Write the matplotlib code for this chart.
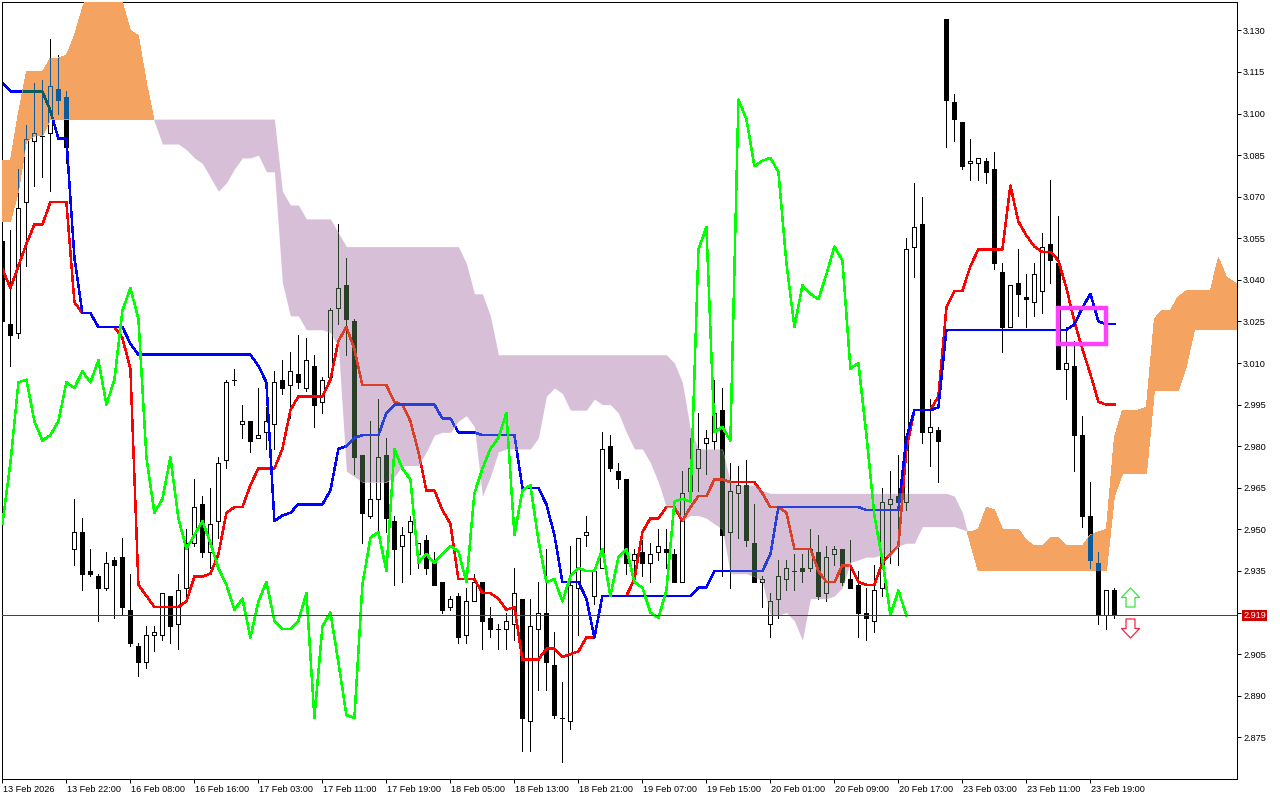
import numpy as np
import matplotlib
matplotlib.use("Agg")
import matplotlib.pyplot as plt
from matplotlib.path import Path
from matplotlib.patches import Rectangle
from matplotlib.transforms import ScaledTranslation

plt.rcParams['font.family'] = ['Liberation Sans', 'DejaVu Sans']

opens = [3.054, 3.024, 3.021, 3.068, 3.090, 3.092, 3.093, 3.109, 3.106, 2.943,
         2.949, 2.935, 2.933, 2.929, 2.939, 2.940, 2.921, 2.908, 2.902, 2.912,
         2.912, 2.926, 2.916, 2.929, 2.945, 2.959, 2.942, 2.953, 2.975, 3.004,
         2.988, 2.989, 2.983, 2.985, 2.988, 3.004, 3.002, 3.006, 3.001, 3.009,
         2.996, 3.005, 3.030, 3.038, 3.025, 2.977, 2.955, 2.961, 2.977, 2.953,
         2.944, 2.949, 2.941, 2.946, 2.938, 2.931, 2.922, 2.926, 2.912, 2.924,
         2.931, 2.918, 2.914, 2.914, 2.916, 2.925, 2.881, 2.914, 2.920, 2.901,
         2.882, 2.881, 2.929, 2.948, 2.926, 2.936, 2.980, 2.971, 2.968, 2.939,
         2.942, 2.938, 2.942, 2.943, 2.941, 2.931, 2.964, 2.972, 2.981, 2.982,
         2.993, 2.949, 2.963, 2.966, 2.945, 2.931, 2.916, 2.925, 2.932, 2.935,
         2.936, 2.936, 2.942, 2.927, 2.941, 2.943, 2.932, 2.930, 2.920, 2.917,
         2.929, 2.959, 2.962, 2.960, 3.052, 3.060, 2.985, 2.986, 3.134, 3.104,
         3.097, 3.082, 3.082, 3.083, 3.080, 3.043, 3.023, 3.039, 3.034, 3.032,
         3.036, 3.053, 3.046, 3.008, 3.009, 2.984, 2.955, 2.938, 2.919, 2.928]
highs = [3.054, 3.058, 3.080, 3.096, 3.111, 3.112, 3.127, 3.121, 3.108, 2.961,
         2.954, 2.943, 2.934, 2.942, 2.940, 2.947, 2.934, 2.909, 2.915, 2.915,
         2.927, 2.926, 2.934, 2.950, 2.968, 2.962, 2.965, 2.976, 3.004, 3.008,
         2.995, 2.989, 3.001, 2.994, 3.007, 3.011, 3.014, 3.020, 3.019, 3.013,
         3.005, 3.030, 3.060, 3.048, 3.026, 2.977, 2.989, 2.997, 2.983, 2.955,
         2.951, 2.955, 2.945, 2.948, 2.942, 2.931, 2.926, 2.927, 2.929, 2.934,
         2.931, 2.922, 2.916, 2.920, 2.936, 2.925, 2.925, 2.931, 2.943, 2.913,
         2.895, 2.944, 2.947, 2.955, 2.936, 2.985, 2.984, 2.974, 2.968, 2.943,
         2.946, 2.945, 2.950, 2.950, 2.943, 2.971, 2.983, 2.992, 2.986, 3.004,
         3.001, 2.974, 2.973, 2.975, 2.959, 2.933, 2.927, 2.939, 2.939, 2.941,
         2.941, 2.950, 2.948, 2.944, 2.944, 2.943, 2.946, 2.935, 2.929, 2.937,
         2.965, 2.971, 2.977, 3.055, 3.075, 3.070, 2.997, 2.987, 3.134, 3.107,
         3.097, 3.091, 3.084, 3.084, 3.086, 3.046, 3.038, 3.051, 3.042, 3.046,
         3.057, 3.076, 3.063, 3.023, 3.018, 2.991, 2.967, 2.942, 2.928, 2.929]
lows = [3.025, 3.009, 3.019, 3.045, 3.074, 3.077, 3.072, 3.100, 3.082, 2.937,
        2.928, 2.933, 2.917, 2.928, 2.918, 2.919, 2.908, 2.897, 2.900, 2.906,
        2.910, 2.909, 2.907, 2.925, 2.944, 2.940, 2.936, 2.947, 2.972, 3.002,
        2.983, 2.978, 2.983, 2.979, 2.979, 2.999, 2.990, 3.001, 3.000, 2.987,
        2.992, 3.004, 3.024, 3.013, 2.970, 2.945, 2.954, 2.948, 2.949, 2.930,
        2.931, 2.934, 2.936, 2.934, 2.930, 2.920, 2.921, 2.909, 2.909, 2.924,
        2.907, 2.911, 2.907, 2.907, 2.910, 2.870, 2.870, 2.892, 2.892, 2.882,
        2.866, 2.878, 2.912, 2.944, 2.923, 2.936, 2.971, 2.965, 2.934, 2.933,
        2.933, 2.931, 2.939, 2.936, 2.931, 2.931, 2.963, 2.964, 2.970, 2.979,
        2.933, 2.929, 2.947, 2.944, 2.931, 2.922, 2.911, 2.918, 2.928, 2.928,
        2.931, 2.935, 2.925, 2.924, 2.937, 2.930, 2.929, 2.911, 2.910, 2.913,
        2.926, 2.938, 2.937, 2.957, 3.041, 2.981, 2.973, 2.967, 3.088, 3.090,
        3.080, 3.076, 3.076, 3.075, 3.044, 3.014, 3.023, 3.027, 3.023, 3.027,
        3.028, 3.039, 3.008, 2.997, 2.971, 2.951, 2.936, 2.916, 2.914, 2.918]
closes = [3.025, 3.020, 3.066, 3.091, 3.093, 3.092, 3.110, 3.105, 3.088, 2.949,
          2.934, 2.934, 2.929, 2.938, 2.937, 2.922, 2.909, 2.902, 2.912, 2.913,
          2.927, 2.915, 2.928, 2.945, 2.958, 2.942, 2.952, 2.974, 3.003, 3.004,
          2.989, 2.982, 2.984, 2.989, 3.003, 3.001, 3.007, 3.003, 3.011, 2.995,
          3.004, 3.029, 3.037, 3.026, 2.976, 2.956, 2.961, 2.976, 2.954, 2.943,
          2.948, 2.953, 2.945, 2.936, 2.930, 2.921, 2.925, 2.911, 2.924, 2.931,
          2.917, 2.914, 2.914, 2.917, 2.927, 2.882, 2.915, 2.920, 2.902, 2.883,
          2.882, 2.930, 2.947, 2.949, 2.935, 2.979, 2.972, 2.968, 2.938, 2.941,
          2.938, 2.941, 2.944, 2.942, 2.931, 2.963, 2.972, 2.979, 2.983, 2.992,
          2.948, 2.964, 2.966, 2.946, 2.931, 2.932, 2.924, 2.933, 2.936, 2.935,
          2.935, 2.943, 2.926, 2.940, 2.943, 2.931, 2.929, 2.920, 2.918, 2.928,
          2.960, 2.961, 2.960, 3.051, 3.059, 2.985, 2.987, 2.982, 3.105, 3.098,
          3.081, 3.083, 3.084, 3.079, 3.046, 3.023, 3.038, 3.035, 3.033, 3.042,
          3.052, 3.047, 3.008, 3.010, 2.984, 2.955, 2.939, 2.919, 2.928, 2.919]

tenkan = [3.044, 3.037, 3.045, 3.053, 3.060, 3.060, 3.068, 3.068, 3.068, 3.032,
          3.028, 3.028, 3.023, 3.023, 3.023, 3.019, 3.008, 2.930, 2.926, 2.922,
          2.922, 2.922, 2.922, 2.924, 2.933, 2.933, 2.934, 2.941, 2.956, 2.958,
          2.958, 2.966, 2.972, 2.972, 2.972, 2.979, 2.993, 2.998, 2.998, 2.998,
          2.998, 3.004, 3.018, 3.023, 3.015, 3.002, 3.002, 3.002, 3.002, 2.996,
          2.995, 2.989, 2.978, 2.964, 2.964, 2.957, 2.952, 2.932, 2.932, 2.932,
          2.927, 2.927, 2.925, 2.921, 2.922, 2.903, 2.903, 2.903, 2.907, 2.907,
          2.904, 2.905, 2.906, 2.911, 2.911, 2.926, 2.926, 2.926, 2.926, 2.932,
          2.949, 2.954, 2.954, 2.958, 2.958, 2.953, 2.958, 2.962, 2.962, 2.968,
          2.968, 2.967, 2.967, 2.967, 2.967, 2.963, 2.958, 2.958, 2.956, 2.943,
          2.943, 2.943, 2.935, 2.931, 2.931, 2.937, 2.937, 2.931, 2.930, 2.930,
          2.938, 2.941, 2.944, 2.979, 2.993, 2.993, 2.993, 2.998, 3.030, 3.036,
          3.036, 3.045, 3.051, 3.051, 3.051, 3.051, 3.074, 3.061, 3.056, 3.052,
          3.050, 3.050, 3.047, 3.037, 3.025, 3.015, 3.006, 2.996, 2.995, 2.995]
kijun = [3.111, 3.108, 3.108, 3.108, 3.108, 3.108, 3.101, 3.091, 3.091, 3.048,
         3.028, 3.028, 3.023, 3.023, 3.023, 3.023, 3.017, 3.013, 3.013, 3.013,
         3.013, 3.013, 3.013, 3.013, 3.013, 3.013, 3.013, 3.013, 3.013, 3.013,
         3.013, 3.013, 3.009, 3.003, 2.953, 2.955, 2.956, 2.959, 2.959, 2.959,
         2.959, 2.964, 2.979, 2.980, 2.983, 2.984, 2.984, 2.984, 2.992, 2.995,
         2.995, 2.995, 2.995, 2.995, 2.995, 2.990, 2.990, 2.985, 2.985, 2.985,
         2.984, 2.984, 2.984, 2.984, 2.984, 2.965, 2.965, 2.965, 2.959, 2.948,
         2.931, 2.931, 2.931, 2.925, 2.911, 2.926, 2.926, 2.926, 2.926, 2.926,
         2.926, 2.926, 2.926, 2.926, 2.926, 2.926, 2.926, 2.929, 2.929, 2.935,
         2.935, 2.935, 2.935, 2.935, 2.935, 2.935, 2.941, 2.958, 2.958, 2.958,
         2.958, 2.958, 2.958, 2.958, 2.958, 2.958, 2.958, 2.958, 2.957, 2.957,
         2.957, 2.957, 2.957, 2.983, 2.993, 2.993, 2.993, 2.994, 3.022, 3.022,
         3.022, 3.022, 3.022, 3.022, 3.022, 3.022, 3.022, 3.022, 3.022, 3.022,
         3.022, 3.022, 3.022, 3.022, 3.024, 3.030, 3.035, 3.025, 3.024, 3.024]
chikou = [2.952, 2.974, 3.003, 3.004, 2.989, 2.982, 2.984, 2.989, 3.003, 3.001,
          3.007, 3.003, 3.011, 2.995, 3.004, 3.029, 3.037, 3.026, 2.976, 2.956,
          2.961, 2.976, 2.954, 2.943, 2.948, 2.953, 2.945, 2.936, 2.930, 2.921,
          2.925, 2.911, 2.924, 2.931, 2.917, 2.914, 2.914, 2.917, 2.927, 2.882,
          2.915, 2.920, 2.902, 2.883, 2.882, 2.930, 2.947, 2.949, 2.935, 2.979,
          2.972, 2.968, 2.938, 2.941, 2.938, 2.941, 2.944, 2.942, 2.931, 2.963,
          2.972, 2.979, 2.983, 2.992, 2.948, 2.964, 2.966, 2.946, 2.931, 2.932,
          2.924, 2.933, 2.936, 2.935, 2.935, 2.943, 2.926, 2.940, 2.943, 2.931,
          2.929, 2.920, 2.918, 2.928, 2.960, 2.961, 2.960, 3.051, 3.059, 2.985,
          2.987, 2.982, 3.105, 3.098, 3.081, 3.083, 3.084, 3.079, 3.046, 3.023,
          3.038, 3.035, 3.033, 3.042, 3.052, 3.047, 3.008, 3.010, 2.984, 2.955,
          2.939, 2.919, 2.928, 2.919]

# cloud runs 26 bars past the last candle, top is cut by the chart edge
span_a = [3.083, 3.083, 3.100, 3.115, 3.115, 3.115, 3.120, 3.120, 3.121, 3.128,
          3.138, 3.145, 3.148, 3.148, 3.146, 3.140, 3.130, 3.128, 3.111, 3.097,
          3.089, 3.089, 3.089, 3.087, 3.084, 3.082, 3.077, 3.072, 3.075, 3.080,
          3.084, 3.084, 3.085, 3.079, 3.079, 3.039, 3.027, 3.027, 3.022, 3.022,
          3.022, 3.021, 3.016, 2.971, 2.969, 2.967, 2.967, 2.967, 2.967, 2.969,
          2.973, 2.973, 2.973, 2.978, 2.984, 2.985, 2.985, 2.989, 2.991, 2.987,
          2.962, 2.969, 2.978, 2.979, 2.979, 2.979, 2.979, 2.983, 2.998, 3.001,
          2.999, 2.993, 2.993, 2.993, 2.997, 2.995, 2.995, 2.992, 2.985, 2.979,
          2.979, 2.974, 2.967, 2.958, 2.958, 2.953, 2.955, 2.955, 2.954, 2.952,
          2.950, 2.934, 2.934, 2.934, 2.933, 2.931, 2.919, 2.919, 2.920, 2.917,
          2.910, 2.925, 2.925, 2.925, 2.926, 2.929, 2.938, 2.939, 2.940, 2.940,
          2.941, 2.940, 2.944, 2.945, 2.945, 2.951, 2.951, 2.951, 2.951, 2.951,
          2.950, 2.949, 2.950, 2.958, 2.957, 2.950, 2.950, 2.950, 2.946, 2.944,
          2.944, 2.947, 2.947, 2.944, 2.944, 2.944, 2.948, 2.949, 2.950, 2.983,
          2.993, 2.993, 2.993, 2.994, 3.026, 3.029, 3.029, 3.034, 3.036, 3.036,
          3.036, 3.036, 3.048, 3.041, 3.039, 3.038]
span_b = [3.061, 3.061, 3.072, 3.090, 3.092, 3.092, 3.098, 3.098, 3.098, 3.098,
          3.098, 3.098, 3.098, 3.098, 3.098, 3.098, 3.098, 3.098, 3.098, 3.098,
          3.098, 3.098, 3.098, 3.098, 3.098, 3.098, 3.098, 3.098, 3.098, 3.098,
          3.098, 3.098, 3.098, 3.098, 3.098, 3.072, 3.067, 3.067, 3.062, 3.062,
          3.062, 3.062, 3.057, 3.052, 3.052, 3.052, 3.052, 3.052, 3.052, 3.052,
          3.052, 3.052, 3.052, 3.052, 3.052, 3.052, 3.052, 3.052, 3.046, 3.035,
          3.035, 3.027, 3.013, 3.013, 3.013, 3.013, 3.013, 3.013, 3.013, 3.013,
          3.013, 3.013, 3.013, 3.013, 3.013, 3.013, 3.013, 3.013, 3.013, 3.013,
          3.013, 3.013, 3.013, 3.013, 3.010, 3.003, 2.986, 2.979, 2.979, 2.979,
          2.979, 2.967, 2.966, 2.966, 2.966, 2.964, 2.963, 2.963, 2.963, 2.963,
          2.963, 2.963, 2.963, 2.963, 2.963, 2.963, 2.963, 2.963, 2.963, 2.963,
          2.963, 2.963, 2.963, 2.963, 2.963, 2.963, 2.963, 2.963, 2.963, 2.962,
          2.956, 2.945, 2.935, 2.935, 2.935, 2.935, 2.935, 2.935, 2.935, 2.935,
          2.935, 2.935, 2.935, 2.935, 2.935, 2.935, 2.935, 2.935, 2.935, 2.962,
          2.970, 2.970, 2.970, 2.970, 3.000, 3.000, 3.000, 3.000, 3.009, 3.022,
          3.022, 3.022, 3.022, 3.022, 3.022, 3.022]

x_tick_bars = [0, 8, 16, 24, 32, 40, 48, 56, 64, 72, 80, 88, 96, 104, 112, 120, 128, 136]
x_tick_labels = ["13 Feb 2026", "13 Feb 22:00", "16 Feb 08:00", "16 Feb 16:00", "17 Feb 03:00",
                 "17 Feb 11:00", "17 Feb 19:00", "18 Feb 05:00", "18 Feb 13:00", "18 Feb 21:00",
                 "19 Feb 07:00", "19 Feb 15:00", "20 Feb 01:00", "20 Feb 09:00", "20 Feb 17:00",
                 "23 Feb 03:00", "23 Feb 11:00", "23 Feb 19:00"]
y_ticks = [3.130, 3.115, 3.100, 3.085, 3.070, 3.055, 3.040, 3.025, 3.010, 2.995,
           2.980, 2.965, 2.950, 2.935, 2.920, 2.905, 2.890, 2.875]
bid = 2.919
up_arrow_price = 2.9255
down_arrow_price = 2.9145
arrow_bar = 141

# the terminal xors the cloud with what lies under it, so marks change colour inside
ORANGE = '#F4A460'
PURPLE = '#D8BFD8'
PLAIN = {'candle': 'black', 'red': '#FF0000', 'blue': '#0000FF'}
ON_ORANGE = {'candle': '#0B5B9F', 'red': '#F45B9F', 'blue': '#0B5B60'}
ON_PURPLE = {'candle': '#274027', 'red': '#D84027', 'blue': '#2740D8'}

LINE = 1.05  # about 2 px once aliased


def draw_marks(ax, cols, z, clip=None, hollow=False):
    artists = []
    bars = np.arange(len(closes))
    o, h, l, c = map(np.array, (opens, highs, lows, closes))
    top = np.maximum(o, c)
    bottom = np.minimum(o, c)
    artists.append(ax.vlines(bars, top, h, color=cols['candle'], lw=0.72, zorder=z, antialiased=False))
    artists.append(ax.vlines(bars, l, bottom, color=cols['candle'], lw=0.72, zorder=z, antialiased=False))
    up = c >= o
    for mask, face in ((up, 'none' if hollow else 'white'), (~up, cols['candle'])):
        rects = ax.bar(bars[mask], (top - bottom)[mask], 0.5, bottom[mask], facecolor=face,
                       edgecolor=cols['candle'], linewidth=0.72, zorder=z, antialiased=False)
        artists.extend(rects.patches)
    artists += ax.plot(bars, tenkan, color=cols['red'], lw=LINE, zorder=z + 0.1, antialiased=False)
    artists += ax.plot(bars, kijun, color=cols['blue'], lw=LINE, zorder=z + 0.2, antialiased=False)
    if clip is not None:
        for a in artists:
            a.set_clip_path(clip, ax.transData)


fig = plt.figure(figsize=(12.8, 8), dpi=100)
ax = fig.add_axes([2.4 / 1280, 1 - 779.4 / 800, 1235 / 1280, 777 / 800])
ax.set_xlim(0, 154.375)
ax.set_ylim(2.8598, 3.1401)

draw_marks(ax, PLAIN, 1)

cloud_x = np.arange(len(span_a))
a = np.array(span_a)
b = np.array(span_b)
orange = ax.fill_between(cloud_x, a, b, where=a >= b, interpolate=True, color=ORANGE, lw=0,
                         zorder=3, antialiased=False)
purple = ax.fill_between(cloud_x, a, b, where=a < b, interpolate=True, color=PURPLE, lw=0,
                         zorder=3, antialiased=False)

draw_marks(ax, ON_ORANGE, 4, Path.make_compound_path(*orange.get_paths()), hollow=True)
draw_marks(ax, ON_PURPLE, 4, Path.make_compound_path(*purple.get_paths()), hollow=True)

ax.plot(np.arange(len(chikou)), chikou, color='#00FF00', lw=LINE, zorder=6, antialiased=False)
ax.axhline(bid, color='#B81414', lw=0.72, zorder=7)

ax.add_patch(Rectangle((132, 3.0167), 6, 0.0133, fill=False, edgecolor='#FF40FF', lw=3.2, zorder=8))

up_shape = Path([(-0.95, 0), (0, 1), (0.95, 0), (0.47, 0), (0.47, -1), (-0.47, -1), (-0.47, 0), (-0.95, 0)], closed=True)
down_shape = Path([(-0.95, 0), (0, -1), (0.95, 0), (0.47, 0), (0.47, 1), (-0.47, 1), (-0.47, 0), (-0.95, 0)], closed=True)
ax.plot([arrow_bar], [up_arrow_price], marker=up_shape, ms=13.7, mfc='white', mec='#40E040', mew=0.9, zorder=8)
ax.plot([arrow_bar], [down_arrow_price], marker=down_shape, ms=13.7, mfc='white', mec='#FF2040', mew=0.9, zorder=8)

ax.yaxis.tick_right()
ax.set_yticks(y_ticks)
ax.set_yticklabels([f"{v:.3f}" for v in y_ticks], fontsize=6.6)
ax.tick_params(axis='y', length=2.6, width=0.72, pad=1.5)
ax.set_xticks(x_tick_bars)
ax.set_xticklabels(x_tick_labels, fontsize=6.6, ha='left')
ax.tick_params(axis='x', length=2.9, width=0.72, pad=1.2)
shift = ScaledTranslation(0.4 / 72, 0, fig.dpi_scale_trans)
for lab in ax.get_xticklabels():
    lab.set_transform(lab.get_transform() + shift)
for side in ax.spines.values():
    side.set_linewidth(0.72)

ax.annotate(f"{bid:.3f}", xy=(1, bid), xycoords=('axes fraction', 'data'),
            xytext=(17, 0), textcoords='offset pixels', ha='center', va='center',
            fontsize=6.6, color='white', zorder=10, annotation_clip=False,
            bbox=dict(boxstyle='square,pad=0.12', fc='#CC0000', ec='#CC0000', lw=0))

fig.savefig('out.png', dpi=100)
